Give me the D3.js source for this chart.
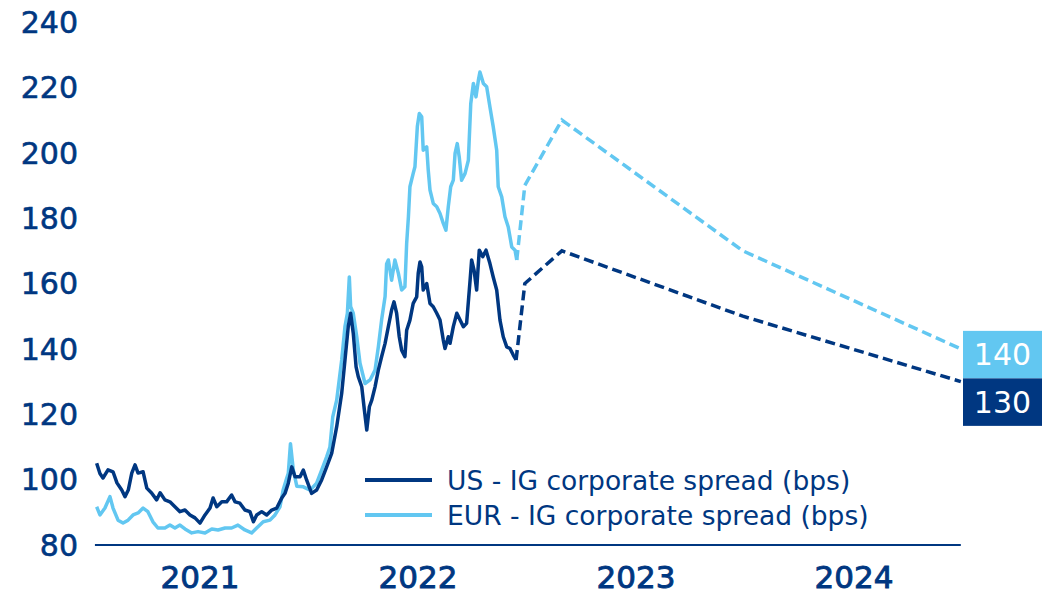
<!DOCTYPE html>
<html>
<head>
<meta charset="utf-8">
<script src="https://cdn.jsdelivr.net/npm/d3@7"></script>
<style>
  html, body { margin: 0; padding: 0; background: #ffffff; }
  svg { display: block; }
  text { font-family: "DejaVu Sans", sans-serif; }
</style>
</head>
<body>
<svg id="chart" width="1054" height="595"></svg>
<script>
// ---- Data (time in decimal years) ----
const usTimes = [2021.026,2021.041,2021.055,2021.078,2021.101,2021.119,2021.141,2021.156,2021.171,2021.187,
  2021.202,2021.216,2021.239,2021.256,2021.278,2021.301,2021.317,2021.339,2021.362,2021.385,
  2021.408,2021.431,2021.454,2021.477,2021.500,2021.523,2021.546,2021.560,2021.577,2021.600,
  2021.622,2021.645,2021.661,2021.683,2021.706,2021.729,2021.745,2021.760,2021.783,2021.806,
  2021.829,2021.852,2021.875,2021.890,2021.905,2021.921,2021.936,2021.959,2021.974,2021.989,
  2022.012,2022.035,2022.058,2022.081,2022.104,2022.127,2022.150,2022.165,2022.180,2022.191,
  2022.203,2022.216,2022.226,2022.242,2022.254,2022.265,2022.277,2022.288,2022.303,2022.318,
  2022.333,2022.349,2022.364,2022.379,2022.390,2022.402,2022.414,2022.425,2022.440,2022.448,
  2022.463,2022.478,2022.494,2022.501,2022.509,2022.517,2022.524,2022.540,2022.555,2022.570,
  2022.586,2022.601,2022.616,2022.624,2022.639,2022.647,2022.662,2022.678,2022.693,2022.708,
  2022.723,2022.739,2022.746,2022.757,2022.769,2022.781,2022.797,2022.812,2022.830,2022.845,
  2022.861,2022.876,2022.891,2022.907,2022.922,2022.937,2022.950];
const usValues = [105,101.9,100.5,103,102.4,99,96.8,94.8,96.8,102,
  104.5,102,102.4,97.4,95.9,93.8,96,93.8,93.2,91.7,
  90.2,90.7,89.2,88.3,86.7,89.2,91.3,94.4,91.7,93.2,
  93.2,95.3,93.2,92.8,90.7,90.2,87.1,89.2,90.2,89.2,
  90.7,91.3,94.4,95.8,98.9,103.9,100.9,100.9,102.9,99.9,
  95.8,96.8,99.9,103.9,108,116.2,126.4,136.6,146.8,150.9,
  144.8,134.5,131.5,128.4,121.3,115.2,122.3,124.3,128.4,133.5,
  137.6,141.7,146.8,151.9,154.4,150.9,143.7,139.6,137.6,145.7,
  148.8,153.9,155.9,163.1,166.6,165.1,158,160,153.9,152.9,
  150.9,148.8,142.7,140.1,143.7,141.7,146.8,150.9,148.8,146.8,
  147.8,161,167.2,164.1,158,170.2,168.2,170.2,166.1,162,
  158,148.8,143.7,140.6,140.1,138.1,136.6];

const eurTimes = [2021.026,2021.041,2021.064,2021.087,2021.101,2021.124,2021.147,2021.170,2021.193,2021.216,
  2021.239,2021.261,2021.284,2021.307,2021.339,2021.362,2021.385,2021.408,2021.431,2021.462,
  2021.491,2021.523,2021.554,2021.583,2021.615,2021.645,2021.674,2021.706,2021.737,2021.760,
  2021.790,2021.821,2021.844,2021.867,2021.882,2021.898,2021.905,2021.915,2021.928,2021.944,
  2021.974,2022.005,2022.035,2022.058,2022.081,2022.096,2022.109,2022.127,2022.150,2022.165,
  2022.176,2022.185,2022.191,2022.203,2022.219,2022.234,2022.257,2022.280,2022.303,2022.318,
  2022.333,2022.349,2022.356,2022.364,2022.379,2022.394,2022.410,2022.425,2022.440,2022.448,
  2022.456,2022.463,2022.478,2022.486,2022.497,2022.506,2022.517,2022.524,2022.540,2022.547,
  2022.555,2022.570,2022.586,2022.601,2022.616,2022.628,2022.639,2022.650,2022.662,2022.670,
  2022.680,2022.689,2022.700,2022.716,2022.731,2022.742,2022.754,2022.766,2022.777,2022.784,
  2022.800,2022.815,2022.830,2022.845,2022.861,2022.868,2022.884,2022.899,2022.914,2022.930,
  2022.945,2022.953];
const eurValues = [91.7,89.2,91.3,94.8,91.3,87.6,86.7,87.6,89.2,89.8,
  91.3,90.2,87.1,85.2,85.2,86.1,85.2,86.1,84.9,83.7,
  84.1,83.7,84.9,84.6,85.2,85.2,86.1,84.6,83.7,85.2,
  87.1,87.6,89.2,91.7,97,100.5,101.9,111,103,98,
  97.8,96.8,98.9,102.9,107,110,119.2,124.3,136.6,146.8,
  150.9,162,152.9,150.9,143.7,135.6,129.4,130.5,133.5,140.6,
  148.8,156,166,167.2,161,167.2,163.1,158,159,172.3,
  180.4,189.6,193.7,195.7,208,212,211,200.8,201.8,194.7,
  188.6,184.5,183.5,181.4,178.4,176.3,183.5,189.6,191.6,199.8,
  202.8,198.8,191.6,193.7,197.7,215,221.2,217.1,222.2,224.7,
  221.2,220.2,214,208,200.8,189.6,186.5,180.4,177.3,171.2,
  170.2,167.2];

// Forecast points
const forecastTimes = [2022.99, 2023.16, 2023.99, 2024.99];
const usForecast = [160, 170, 150, 130];
const eurForecast = [190, 210, 170, 140];

const yTicks = [80, 100, 120, 140, 160, 180, 200, 220, 240];
const years = [2021, 2022, 2023, 2024];
const legendLabels = ["US - IG corporate spread (bps)", "EUR - IG corporate spread (bps)"];
const endLabels = ["140", "130"];

// ---- Drawing ----
const DARK = "#003781";
const LIGHT = "#62C7F1";

const svg = d3.select("#chart");
const x = d3.scaleLinear().domain([2021, 2025]).range([91, 963]);
const y = d3.scaleLinear().domain([80, 240]).range([545, 22]);

// Y tick labels
svg.append("g").selectAll("text").data(yTicks).join("text")
  .attr("x", 78).attr("y", d => y(d)).attr("dy", "0.36em")
  .attr("text-anchor", "end")
  .attr("font-size", 30).attr("fill", DARK)
  .attr("stroke", DARK).attr("stroke-width", 0.6)
  .text(d => d);

// X axis line
svg.append("line")
  .attr("x1", x(2021.018)).attr("x2", x(2024.99))
  .attr("y1", y(80)).attr("y2", y(80))
  .attr("stroke", DARK).attr("stroke-width", 2);

// Year labels
svg.append("g").selectAll("text").data(years).join("text")
  .attr("x", d => x(d + 0.5)).attr("y", 588)
  .attr("text-anchor", "middle")
  .attr("font-size", 31).attr("fill", DARK)
  .attr("stroke", DARK).attr("stroke-width", 0.9)
  .text(d => d);

const line = d3.line().x(d => x(d[0])).y(d => y(d[1]));

const usHist = usTimes.map((t, i) => [t, usValues[i]]);
const eurHist = eurTimes.map((t, i) => [t, eurValues[i]]);
const usFc = [usHist[usHist.length - 1]].concat(forecastTimes.map((t, i) => [t, usForecast[i]]));
const eurFc = [eurHist[eurHist.length - 1]].concat(forecastTimes.map((t, i) => [t, eurForecast[i]]));

// Dashed forecasts
svg.append("path").datum(eurFc).attr("d", line)
  .attr("fill", "none").attr("stroke", LIGHT).attr("stroke-width", 3.5)
  .attr("stroke-dasharray", "10,5");
svg.append("path").datum(usFc).attr("d", line)
  .attr("fill", "none").attr("stroke", DARK).attr("stroke-width", 3.5)
  .attr("stroke-dasharray", "10,5");

// History lines
svg.append("path").datum(eurHist).attr("d", line)
  .attr("fill", "none").attr("stroke", LIGHT).attr("stroke-width", 3.5)
  .attr("stroke-linejoin", "round");
svg.append("path").datum(usHist).attr("d", line)
  .attr("fill", "none").attr("stroke", DARK).attr("stroke-width", 3.5)
  .attr("stroke-linejoin", "round");

// Legend
const legendColors = [DARK, LIGHT];
const legend = svg.append("g");
legendLabels.forEach((lab, i) => {
  const ly = 480 + i * 35;
  legend.append("line").attr("x1", 365).attr("x2", 432)
    .attr("y1", ly).attr("y2", ly)
    .attr("stroke", legendColors[i]).attr("stroke-width", 4);
  legend.append("text").attr("x", 447).attr("y", ly).attr("dy", "0.36em")
    .attr("font-size", 26.5).attr("fill", DARK)
    .text(lab);
});

// End value boxes
const boxColors = [LIGHT, DARK];
const boxTop = y(140) - 18;
const boxH = 47.5;
endLabels.forEach((lab, i) => {
  const top = boxTop + i * boxH;
  svg.append("rect").attr("x", 963).attr("y", top)
    .attr("width", 79).attr("height", boxH).attr("fill", boxColors[i]);
  svg.append("text").attr("x", 1002.5).attr("y", top + boxH / 2).attr("dy", "0.36em")
    .attr("text-anchor", "middle").attr("font-size", 30).attr("fill", "#ffffff")
    .text(lab);
});
</script>
</body>
</html>
